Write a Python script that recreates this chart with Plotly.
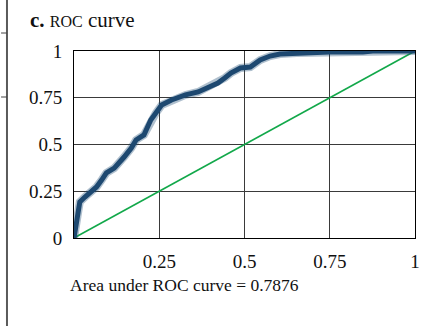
import plotly.graph_objects as go

# ROC curve points
fpr = [0.0, 0.003, 0.008, 0.012, 0.017, 0.032, 0.052, 0.066, 0.081, 0.095, 0.118, 0.133,
       0.147, 0.168, 0.182, 0.205, 0.225, 0.24, 0.257, 0.286, 0.327, 0.364, 0.393, 0.422,
       0.442, 0.46, 0.488, 0.517, 0.546, 0.575, 0.604, 0.653, 0.749, 0.847, 0.876, 1.0]
tpr = [0.0, 0.043, 0.096, 0.15, 0.193, 0.219, 0.246, 0.273, 0.31, 0.348, 0.374, 0.401,
       0.433, 0.481, 0.524, 0.551, 0.631, 0.668, 0.711, 0.738, 0.765, 0.781, 0.807, 0.829,
       0.856, 0.882, 0.909, 0.914, 0.952, 0.973, 0.984, 0.989, 0.995, 0.995, 1.0, 1.0]
chance = [0, 1]
auc_value = 0.7876
tick_vals = [0, 0.25, 0.5, 0.75, 1]
tick_text = ["0", "0.25", "0.5", "0.75", "1"]

FONT = "Liberation Serif, DejaVu Serif, serif"

fig = go.Figure()
fig.add_trace(go.Scatter(x=chance, y=chance, mode="lines",
                         line=dict(color="#12a84a", width=1.6), hoverinfo="skip"))
fig.add_trace(go.Scatter(x=fpr, y=tpr, mode="lines",
                         line=dict(color="rgba(30,74,115,0.35)", width=8), hoverinfo="skip"))
fig.add_trace(go.Scatter(x=fpr, y=tpr, mode="lines",
                         line=dict(color="#1d4870", width=5), hoverinfo="skip"))

# plot area pixel geometry
L, R, T, B = 74, 1, 51, 88
W, H = 421, 326
pw = W - L - R
ph = H - T - B

def px(xp):
    return (xp - L) / pw

def py(yp):
    return (H - B - yp) / ph

axis_common = dict(range=[0, 1], showgrid=True, gridcolor="#3a3a3a", gridwidth=1,
                   showline=True, linecolor="#000000", linewidth=1, mirror=True,
                   zeroline=False, ticks="", tickfont=dict(family=FONT, size=19, color="#111"),
                   fixedrange=True, ticklabeloverflow="allow")

fig.update_layout(
    width=W, height=H,
    margin=dict(l=L, r=R, t=T, b=B, pad=0),
    paper_bgcolor="white", plot_bgcolor="white",
    showlegend=False,
    xaxis=dict(**axis_common, tickvals=tick_vals[1:], ticktext=tick_text[1:], ticklabelstandoff=6),
    yaxis=dict(**axis_common, tickvals=tick_vals, ticktext=tick_text, ticklabelstandoff=7),
    font=dict(family=FONT, color="#111"),
    annotations=[
        dict(text="<b>c.</b> <span style='font-size:16px'>ROC</span> curve",
             xref="paper", yref="paper", x=px(27), y=py(20),
             xanchor="left", yanchor="middle", showarrow=False,
             font=dict(family=FONT, size=21, color="#111")),
        dict(text=f"Area under ROC curve = {auc_value}",
             xref="paper", yref="paper", x=px(186), y=py(285),
             xanchor="center", yanchor="middle", showarrow=False,
             font=dict(family=FONT, size=17.5, color="#111")),
    ],
    shapes=[
        dict(type="line", xref="paper", yref="paper", x0=px(6), x1=px(6), y0=py(H),
             y1=py(0), line=dict(color="#5a5a5a", width=2), layer="above"),
        dict(type="line", xref="paper", yref="paper", x0=px(0), x1=px(6),
             y0=py(33), y1=py(33), line=dict(color="#444", width=1)),
        dict(type="line", xref="paper", yref="paper", x0=px(0), x1=px(6),
             y0=py(97), y1=py(97), line=dict(color="#444", width=1)),
    ],
)

fig.write_html("out.html", config={"displayModeBar": False},
               post_script="document.body.style.margin='0';document.body.style.overflow='hidden';")
